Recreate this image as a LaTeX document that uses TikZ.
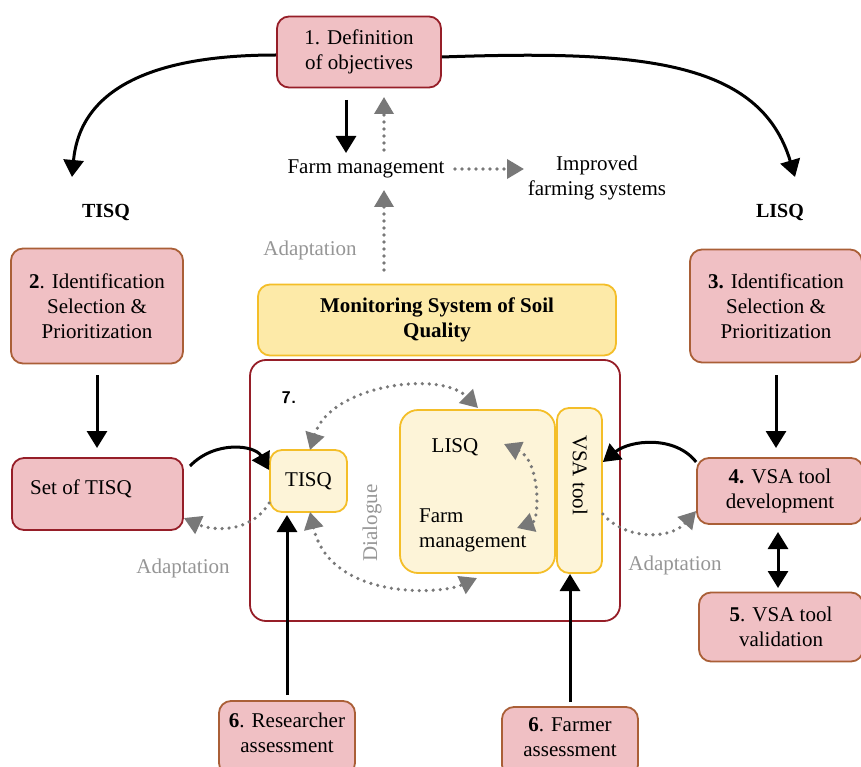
\documentclass[tikz,border=0pt]{standalone}
\usepackage{fontspec}
\setmainfont{Liberation Serif}
\usetikzlibrary{arrows.meta}
\definecolor{pinkfill}{RGB}{240,192,196}
\definecolor{redborder}{RGB}{150,30,40}
\definecolor{brownborder}{RGB}{170,95,55}
\definecolor{yelfill}{RGB}{253,234,168}
\definecolor{yelborder}{RGB}{244,190,40}
\definecolor{creamfill}{RGB}{253,244,216}
\definecolor{arrgray}{RGB}{120,120,120}
\definecolor{txtgray}{RGB}{150,150,150}
\tikzset{
  pbox/.style={draw=redborder, fill=pinkfill, rounded corners=12pt, line width=1.8pt, align=center, inner sep=0pt, font=\fontsize{21}{25}\selectfont},
  bbox/.style={pbox, draw=brownborder},
  ybox/.style={draw=yelborder, fill=yelfill, rounded corners=12pt, line width=1.8pt, align=center, inner sep=0pt, font=\fontsize{21}{25}\selectfont\bfseries},
  cbox/.style={draw=yelborder, fill=creamfill, rounded corners=12pt, line width=1.8pt, align=center, inner sep=0pt, font=\fontsize{21}{25}\selectfont},
  blk/.style={line width=3pt, -{Triangle[length=17pt,width=20pt]}},
  dotg/.style={draw=arrgray, line width=3.6pt, dash pattern=on 0pt off 7pt, line cap=round, -{Triangle[length=17pt,width=19pt,fill=arrgray,line cap=butt]}},
  dotgb/.style={draw=arrgray, line width=3.6pt, dash pattern=on 0pt off 7pt, line cap=round, {Triangle[length=17pt,width=19pt,fill=arrgray]}-{Triangle[length=17pt,width=19pt,fill=arrgray]}},
  lbl/.style={font=\fontsize{21}{25}\selectfont, align=center, inner sep=0pt},
  glbl/.style={lbl, text=txtgray},
}
\begin{document}
\begin{tikzpicture}[x=1pt,y=-1pt]
\useasboundingbox (0,0) rectangle (861,767);
\clip (0,0) rectangle (861,767);
\fill[white] (0,0) rectangle (861,767);

% boxes
\node[pbox, minimum width=164pt, minimum height=71pt] (b1) at (359,52) {1. Definition\\of objectives};
\node[bbox, minimum width=172pt, minimum height=115pt] (b2) at (97,306) {\textbf{2}. Identification\\Selection \&\\Prioritization};
\node[bbox, minimum width=172pt, minimum height=113pt] (b3) at (776,306) {\textbf{3.} Identification\\Selection \&\\Prioritization};
\node[pbox, minimum width=171pt, minimum height=72pt] (set) at (97.5,494) {};
\node[lbl, anchor=west] (settxt) at (30,489) {Set of TISQ};
\node[bbox, minimum width=166pt, minimum height=66pt] (b4) at (780,491) {\textbf{4.} VSA tool\\development};
\node[bbox, minimum width=164pt, minimum height=69pt] (b5) at (781,627) {\textbf{5}. VSA tool\\validation};
\node[bbox, minimum width=136pt, minimum height=74pt] (res) at (287,738) {};
\node[lbl] (restxt) at (287,733) {\textbf{6}. Researcher\\assessment};
\node[bbox, minimum width=136pt, minimum height=70pt] (farm) at (570,742) {};
\node[lbl] (farmtxt) at (570,737) {\textbf{6}. Farmer\\assessment};

\node[ybox, minimum width=358pt, minimum height=71pt] (mon) at (437,320) {Monitoring System of Soil\\Quality};
\node[draw=redborder, fill=white, rounded corners=16pt, line width=1.8pt, minimum width=370pt, minimum height=261pt] (big) at (435,490.5) {};
\node[lbl, font=\fontsize{17}{20}\selectfont\bfseries\sffamily] (seven) at (289,398) {7.};
\node[cbox, minimum width=77pt, minimum height=62pt] (tin) at (308.5,481) {TISQ};
\node[cbox, minimum width=155pt, minimum height=163pt, rounded corners=18pt] (lf) at (477.5,491.5) {};
\node[lbl] (lisq) at (455,447) {LISQ};
\node[lbl, align=left, anchor=west] (fm) at (419,530) {Farm\\management};
\node[cbox, minimum width=45pt, minimum height=165pt] (vsa) at (579.5,490.5) {};
\node[lbl, rotate=-90] (vsatxt) at (580,475) {VSA tool};
\node[glbl, rotate=90] (dia) at (372,523) {Dialogue};

% top labels
\node[lbl] (fmtop) at (366,169) {Farm management};
\node[lbl] (imp) at (597,178) {Improved\\farming systems};
\node[lbl, font=\fontsize{20}{24}\selectfont\bfseries] (tisq) at (106,213) {TISQ};
\node[lbl, font=\fontsize{20}{24}\selectfont\bfseries] (lisqt) at (780,213) {LISQ};
\node[glbl] (ad1) at (310,250) {Adaptation};
\node[glbl] (ad2) at (183,568) {Adaptation};
\node[glbl] (ad3) at (675,565) {Adaptation};

% coordinates
\coordinate (t1) at (72,177);
\coordinate (l1) at (795,177);

% black arrows
\draw[blk] (b1.west |- 0,55) .. controls (150,55) and (80,90) .. (t1);
\draw[blk] (b1.east |- 0,57) .. controls (640,50) and (760,60) .. (l1);
\draw[blk] (346,100) -- (346,153);
\draw[dotg] (384,150) -- (384,97);
\draw[dotg] (455,169) -- (524,169);
\draw[dotg] (384,270) -- (384,190);
\draw[blk] (b2.south |- 0,375) -- (b2.south |- 0,448);
\draw[blk] (b3.south |- 0,375) -- (b3.south |- 0,448);
\draw[blk] (190,466) .. controls (215,440) and (255,445) .. (tin.west |- 0,470);
\draw[blk] (b4.west |- 0,462) .. controls (675,435) and (630,440) .. (vsa.east |- 0,462);
\draw[dotg] (tin.west |- 0,503) .. controls (250,535) and (210,530) .. (set.east |- 0,518);
\draw[dotg] (vsa.east |- 0,514) .. controls (625,540) and (670,540) .. (b4.west |- 0,511);
\draw[blk, {Triangle[length=17pt,width=20pt]}-{Triangle[length=17pt,width=20pt]}] (778,532) -- (778,588);
\draw[blk] (res.north |- 0,695) -- (res.north |- 0,515);
\draw[blk] (farm.north |- 0,702) -- (farm.north |- 0,574);

% dotted double arrows inside
\draw[dotgb] (310,450) .. controls (330,385) and (440,370) .. (478,408);
\draw[dotgb] (310,512) .. controls (330,600) and (440,595) .. (477,578);
\draw[dotgb] (504,444) .. controls (540,460) and (540,520) .. (517,528);
\end{tikzpicture}
\end{document}
